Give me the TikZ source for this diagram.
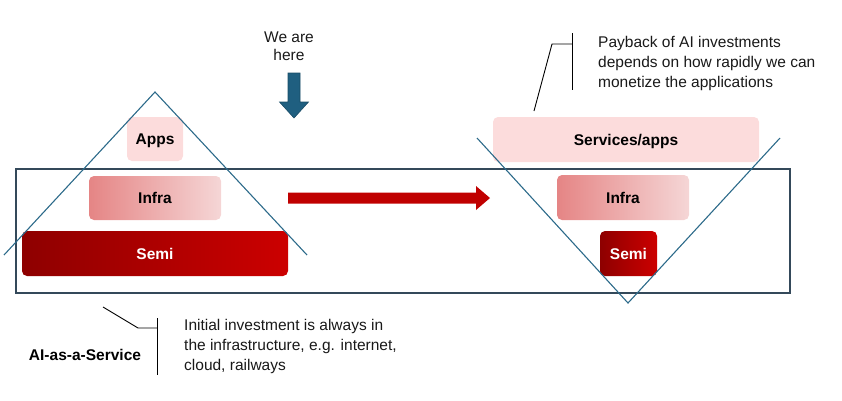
\documentclass[tikz,border=0pt]{standalone}
\usepackage{fontspec}
\setmainfont{Liberation Sans}
\begin{document}
\begin{tikzpicture}[x=1pt,y=-1pt,
  frame/.style={draw=framec,line width=1.4pt},
  tri/.style={draw=tric,line width=1.1pt},
  layer/.style={rounded corners=5pt,inner sep=0pt,text depth=0pt,font=\fontsize{15.5}{18}\selectfont\bfseries},
  light/.style={layer,fill=pinkc,text=black},
  mid/.style={layer,left color=infraA,right color=infraB,text=black},
  dark/.style={layer,left color=semiA,right color=semiB,text=white},
  note/.style={font=\fontsize{15.5}{20}\selectfont,align=left,anchor=west,inner sep=0pt,text=black!90},
  lead/.style={draw=black,line width=0.9pt}]
\definecolor{framec}{HTML}{34495A}
\definecolor{tric}{HTML}{2C6A8A}
\definecolor{pinkc}{HTML}{FCDCDC}
\definecolor{infraA}{HTML}{E58585}
\definecolor{infraB}{HTML}{F5D6D6}
\definecolor{semiA}{HTML}{8E0000}
\definecolor{semiB}{HTML}{CC0000}
\definecolor{redarrow}{HTML}{C00000}
\definecolor{bluearrow}{HTML}{1F5F80}
\useasboundingbox (0,0) rectangle (842,400);

% frame
\draw[frame] (16,169) rectangle (790,293);

% left stack
\node[light,minimum width=56pt,minimum height=44pt] (appsL) at (155,139) {Apps};
\node[mid,minimum width=132pt,minimum height=44pt] (infraL) at (155,198) {Infra};
\node[dark,minimum width=266pt,minimum height=45pt] (semiL) at (155,253.5) {Semi};
\draw[tri] (4,255) -- (155,92) -- (307,255);

% right stack
\node[light,minimum width=266pt,minimum height=45pt] (servR) at (626,139.5) {Services/apps};
\node[mid,minimum width=132pt,minimum height=45pt] (infraR) at (623,197.5) {Infra};
\node[dark,minimum width=57pt,minimum height=45pt] (semiR) at (628.5,253.5) {Semi};
\draw[tri] (477,138) -- (628,303) -- (780,138);

% red arrow
\fill[redarrow] (288,192.5) -- (476,192.5) -- (476,186) -- (490,198) -- (476,210) -- (476,203.5) -- (288,203.5) -- cycle;

% we are here
\node[font=\fontsize{15.5}{18}\selectfont,align=center,text=black!90] (here) at (289,46) {We are\\here};
\draw[fill=bluearrow,draw=bluearrow!80!black,line width=0.6pt] (288,73) -- (300,73) -- (300,102) -- (308.5,102) -- (294,118) -- (279.5,102) -- (288,102) -- cycle;

% top right note
\node[note] (payback) at (598,63) {Payback of AI investments\\depends on how rapidly we can\\monetize the applications};
\coordinate (pb1) at (572,33);
\coordinate (pb2) at (572,90);
\coordinate (pbj) at (552,44);
\coordinate (pbk) at (572,44);
\coordinate (pbe) at (534,111);
\draw[lead] (pb1) -- (pb2);
\draw[lead] (pbe) -- (pbj) -- (pbk);

% bottom left note
\node[note] (initial) at (184,346) {Initial investment is always in\\the infrastructure, e.g. internet,\\cloud, railways};
\node[font=\fontsize{15.5}{18}\selectfont\bfseries,text=black] (aiaas) at (85,355) {AI-as-a-Service};
\coordinate (in1) at (157,318);
\coordinate (in2) at (157,375);
\coordinate (inj) at (138,328);
\coordinate (ink) at (157,328);
\coordinate (ine) at (103,307);
\draw[lead] (in1) -- (in2);
\draw[lead] (ine) -- (inj) -- (ink);
\end{tikzpicture}
\end{document}
